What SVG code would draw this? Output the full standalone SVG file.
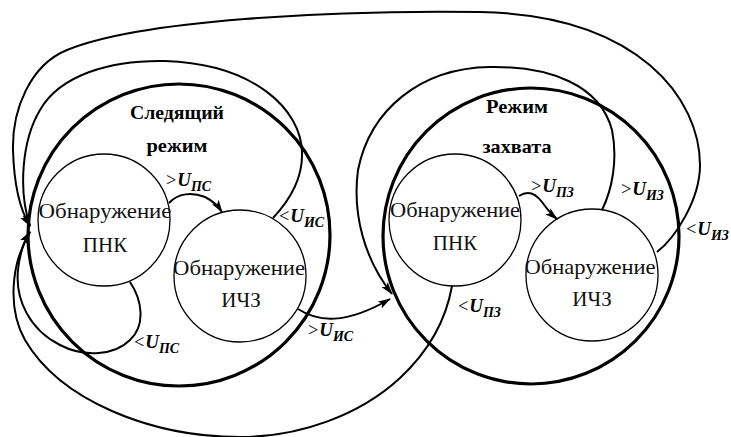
<svg xmlns="http://www.w3.org/2000/svg" width="731" height="437" viewBox="0 0 731 437">
<style>
.big{fill:none;stroke:#000;stroke-width:3.2}
.node{fill:none;stroke:#000;stroke-width:1.3}
.con{fill:none;stroke:#000;stroke-width:2}
.nt{font-family:"Liberation Serif","Times New Roman",serif;font-size:21px;fill:#111;text-anchor:middle}
.tt{font-family:"Liberation Serif","Times New Roman",serif;font-size:19px;font-weight:bold;fill:#000;text-anchor:middle}
.lab{font-family:"Liberation Serif","Times New Roman",serif;font-size:18px;font-style:italic;fill:#000}
.u{font-weight:bold;font-size:19px}
.sub{font-weight:bold;font-size:14px}
</style>
<defs>
<marker id="arr" viewBox="0 0 13 9" refX="12" refY="4.5" markerWidth="13" markerHeight="9" markerUnits="userSpaceOnUse" orient="auto">
<path d="M0,0.5 L13,4.5 L0,8.5 L3,4.5 z" fill="#000"/>
</marker>
</defs>
<rect width="731" height="437" fill="#fff"/>

<g id="mode-tracking">
<circle class="big" cx="179" cy="235" r="151"/>
<text class="tt" x="177" y="119" textLength="94" lengthAdjust="spacingAndGlyphs">Следящий</text>
<text class="tt" x="177" y="152" textLength="61" lengthAdjust="spacingAndGlyphs">режим</text>
</g>
<g id="mode-capture">
<circle class="big" cx="531" cy="236" r="148"/>
<text class="tt" x="517" y="113" textLength="62" lengthAdjust="spacingAndGlyphs">Режим</text>
<text class="tt" x="517" y="153" textLength="69" lengthAdjust="spacingAndGlyphs">захвата</text>
</g>
<g id="tracking-pnk">
<circle class="node" cx="104" cy="220" r="66"/>
<text class="nt" x="105" y="218" textLength="133" lengthAdjust="spacingAndGlyphs">Обнаружение</text>
<text class="nt" x="105" y="252">ПНК</text>
</g>
<g id="tracking-ichz">
<circle class="node" cx="240" cy="276" r="66"/>
<text class="nt" x="239" y="275" textLength="132" lengthAdjust="spacingAndGlyphs">Обнаружение</text>
<text class="nt" x="241" y="307">ИЧЗ</text>
</g>
<g id="capture-pnk">
<circle class="node" cx="455" cy="220" r="66"/>
<text class="nt" x="455" y="217" textLength="130" lengthAdjust="spacingAndGlyphs">Обнаружение</text>
<text class="nt" x="455" y="250">ПНК</text>
</g>
<g id="capture-ichz">
<circle class="node" cx="592" cy="275" r="66"/>
<text class="nt" x="590" y="274" textLength="131" lengthAdjust="spacingAndGlyphs">Обнаружение</text>
<text class="nt" x="592" y="306">ИЧЗ</text>
</g>

<g id="connectors">
<path class="con" marker-end="url(#arr)" d="M657,252 C675,238 700,200 700,165 C700,100 640,15 480,12 C330,10 140,20 67,50 C30,65 12,110 13,150 C14,185 20,210 30,226"/>
<path class="con" marker-end="url(#arr)" d="M273,218 C291,199 303,178 302,152 C301,110 255,64 165,61 C110,60 60,75 40,110 C22,140 18,190 30,226"/>
<path class="con" marker-end="url(#arr)" d="M130,282 C142,300 146,325 130,340 C115,355 85,358 60,345 C30,330 15,300 18,270 C20,250 25,240 30,232"/>
<path class="con" marker-end="url(#arr)" d="M452,286 C446,320 430,350 400,378 C360,415 300,437 240,437 C150,437 60,400 25,340 C8,310 10,265 30,232"/>
<path class="con" marker-end="url(#arr)" d="M602,210 C612,190 618,160 612,130 C600,85 550,66 490,67 C420,68 370,110 358,170 C352,215 365,260 392,294"/>
<path class="con" marker-end="url(#arr)" d="M298,309 C318,322 345,325 390,299"/>
<path class="con" marker-end="url(#arr)" d="M169,203 C178,193 192,192 205,197 C213,201 218,206 222,212"/>
<path class="con" marker-end="url(#arr)" d="M519,196 C528,190 536,194 542,202 C547,209 551,214 557,219"/>

<text class="lab" x="165" y="186">&gt;<tspan class="u">U</tspan><tspan class="sub" dy="5">ПС</tspan></text>
<text class="lab" x="278" y="222">&lt;<tspan class="u">U</tspan><tspan class="sub" dy="5">ИС</tspan></text>
<text class="lab" x="133" y="348">&lt;<tspan class="u">U</tspan><tspan class="sub" dy="5">ПС</tspan></text>
<text class="lab" x="307" y="336">&gt;<tspan class="u">U</tspan><tspan class="sub" dy="5">ИС</tspan></text>
<text class="lab" x="530" y="192">&gt;<tspan class="u">U</tspan><tspan class="sub" dy="5">ПЗ</tspan></text>
<text class="lab" x="620" y="195">&gt;<tspan class="u">U</tspan><tspan class="sub" dy="5">ИЗ</tspan></text>
<text class="lab" x="685" y="235">&lt;<tspan class="u">U</tspan><tspan class="sub" dy="5">ИЗ</tspan></text>
<text class="lab" x="457" y="312">&lt;<tspan class="u">U</tspan><tspan class="sub" dy="5">ПЗ</tspan></text>
</g>
</svg>
